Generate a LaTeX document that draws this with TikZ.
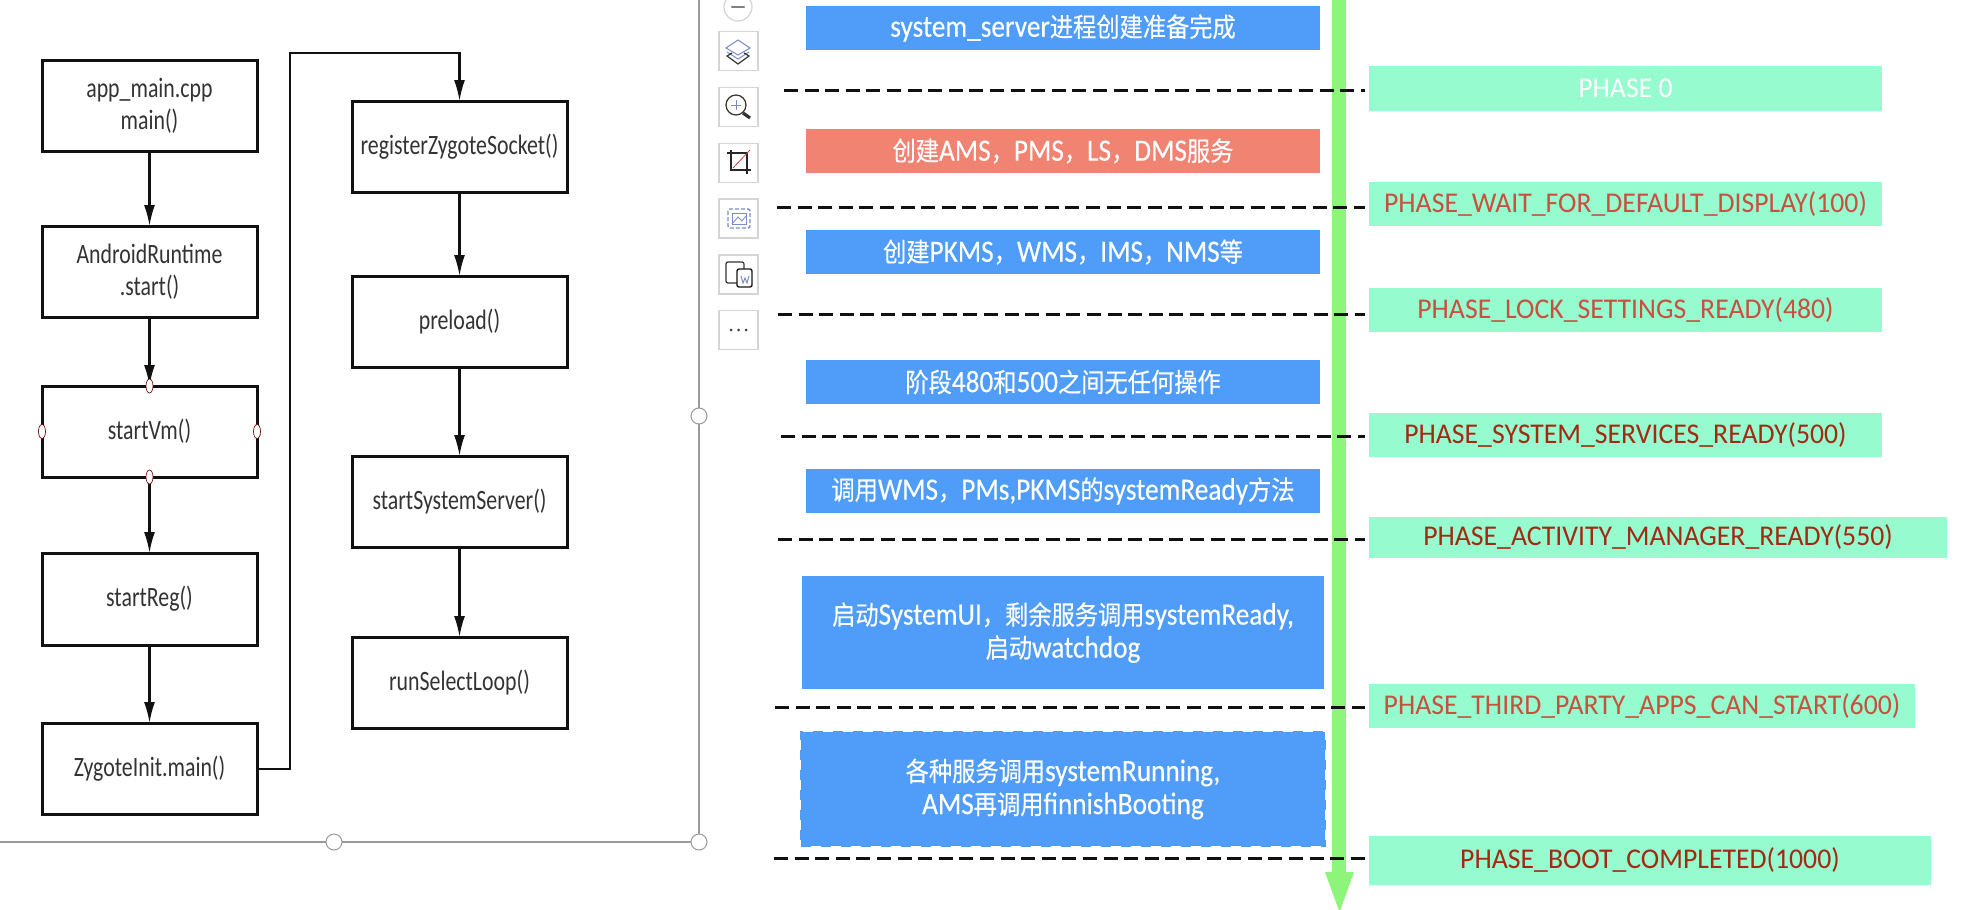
\documentclass[tikz,border=0pt]{standalone}
\usepackage{fontspec}
\setmainfont[FakeStretch=0.97]{Carlito}
\newfontfamily\flowf[FakeStretch=0.78]{Carlito}
\newfontfamily\taskf[FakeStretch=0.88,FakeBold=0.3]{Carlito}
\newfontfamily\cjk[FakeStretch=0.88,FakeBold=0.3]{Noto Sans CJK SC}
\newcommand\zh[1]{{\cjk\fontsize{13.2}{16.5}\selectfont #1}}
\usetikzlibrary{arrows.meta,shapes.geometric}
\definecolor{blueb}{HTML}{4F9DF8}
\definecolor{redb}{HTML}{F08372}
\definecolor{mintb}{HTML}{96FBCF}
\definecolor{greenar}{HTML}{8CF57A}
\definecolor{darkln}{HTML}{111111}
\definecolor{txtgray}{HTML}{333333}
\definecolor{phlight}{HTML}{C9503E}
\definecolor{phdark}{HTML}{A32A12}
\definecolor{panelln}{HTML}{9A9A9A}
\definecolor{toolln}{HTML}{D5D5D5}
\definecolor{iconbl}{HTML}{7C8CC4}
\tikzset{
 flowbox/.style={draw=darkln,line width=1.5pt,fill=white,text=txtgray,font={\flowf\fontsize{14}{16}\selectfont},align=center,inner sep=0pt,outer sep=0pt},
 taskbox/.style={fill=blueb,text=white,font={\taskf\fontsize{15.5}{16.5}\selectfont},align=center,inner sep=0pt,outer sep=0pt},
 alertbox/.style={taskbox,fill=redb},
 runbox/.style={taskbox,draw=blueb,line width=1pt,dash pattern=on 5pt off 5pt},
 phasebox/.style={fill=mintb,text=phlight,font=\fontsize{14.3}{18}\selectfont,align=center,inner sep=0pt,outer sep=0pt},
 phasedark/.style={phasebox,text=phdark},
 phasewhite/.style={phasebox,text=white},
 flowline/.style={draw=darkln,line width=1.1pt,-{Latex[length=10.5pt,width=5.5pt]}},
 phaseline/.style={draw=darkln,line width=1.5pt,dash pattern=on 7pt off 3.3pt,shorten >=2pt},
 panelline/.style={draw=panelln,line width=0.6pt},
 bighandle/.style={circle,draw=panelln,fill=white,line width=0.5pt,minimum size=8pt,inner sep=0pt},
 smallhandle/.style={ellipse,draw=darkln!60!red,fill=white,line width=0.35pt,minimum width=3.5pt,minimum height=7pt,inner sep=0pt},
 toolbox/.style={draw=toolln,fill=white,line width=0.6pt,inner sep=0pt,minimum size=19.5pt},
 greenline/.style={draw=greenar,line width=7pt},
}
\newcommand\pxbox[7]{%
 \pgfmathsetmacro\bw{(#4-#2)/2}\pgfmathsetmacro\bh{(#5-#3)/2}%
 \pgfmathsetmacro\cx{(#2+#4)/2}\pgfmathsetmacro\cy{(#3+#5)/2}%
 \node[#6,minimum width=\bw pt,minimum height=\bh pt] (#1) at (\cx,\cy) {#7};}
\begin{document}
\begin{tikzpicture}[x=0.5pt,y=-0.5pt]
\clip (0,0) rectangle (1976,910);
\fill[white] (0,0) rectangle (1976,910);
% panel
\coordinate (pa) at (699,-5);
\coordinate (pb) at (699,842);
\coordinate (pc) at (-5,842);
\draw[panelline] (pa) -- (pb) -- (pc);
\node[bighandle] (h1) at (699,416) {};
\node[bighandle] (h2) at (334,842) {};
\node[bighandle] (h3) at (699,842) {};
% left flow
\pxbox{a1}{42}{60}{257}{151}{flowbox}{app\_main.cpp\\main()}
\pxbox{a2}{42}{226}{257}{317}{flowbox}{AndroidRuntime\\.start()}
\pxbox{a3}{42}{386}{257}{477}{flowbox}{startVm()}
\pxbox{a4}{42}{553}{257}{645}{flowbox}{startReg()}
\pxbox{a5}{42}{723}{257}{814}{flowbox}{ZygoteInit.main()}
\pxbox{b1}{352}{101}{567}{192}{flowbox}{registerZygoteSocket()}
\pxbox{b2}{352}{276}{567}{367}{flowbox}{preload()}
\pxbox{b3}{352}{456}{567}{547}{flowbox}{startSystemServer()}
\pxbox{b4}{352}{637}{567}{728}{flowbox}{runSelectLoop()}
\draw[flowline] (a1) -- (a2);
\draw[flowline] (a2) -- (a3);
\draw[flowline] (a3) -- (a4);
\draw[flowline] (a4) -- (a5);
\draw[flowline] (b1) -- (b2);
\draw[flowline] (b2) -- (b3);
\draw[flowline] (b3) -- (b4);
\coordinate (r1) at (290,769);
\coordinate (r2) at (290,53);
\draw[flowline] (a5.east |- r1) -- (r1) -- (r2) -- (r2 -| b1) -- (b1);
\node[smallhandle] (s1) at (a3.north) {};
\node[smallhandle] (s2) at (a3.south) {};
\node[smallhandle] (s3) at (a3.west) {};
\node[smallhandle] (s4) at (a3.east) {};
% toolbar
\node[circle,draw=toolln,fill=white,line width=0.6pt,minimum size=14pt,inner sep=0pt] (t0) at (738,7) {};
\draw[gray,line width=1.2pt,line cap=round] (732,7) -- (744,7);
\node[toolbox] (t1) at (738.5,51) {};
\node[toolbox] (t2) at (738.5,107) {};
\node[toolbox] (t3) at (738.5,163) {};
\node[toolbox] (t4) at (738.5,218.5) {};
\node[toolbox] (t5) at (738.5,274.5) {};
\node[toolbox] (t6) at (738.5,330) {};
% layers icon
\draw[iconbl,line width=0.5pt] (738,40) -- (750,48) -- (738,55) -- (726,48) -- cycle;
\draw[iconbl,line width=0.5pt] (727,52) -- (738,59) -- (749,52);
\draw[black!80,line width=0.6pt] (732,53) -- (727,56) -- (738,64) -- (749,56) -- (744,53);
% zoom icon
\draw[black!80,line width=0.6pt] (736,105) circle[radius=10];
\draw[iconbl,line width=0.5pt] (731,105) -- (741,105) (736,100) -- (736,110);
\draw[black!80,line width=1.6pt] (743,113) -- (750,118);
% crop icon
\draw[black!85,line width=0.9pt] (727,153) -- (747,153) -- (747,174);
\draw[black!85,line width=0.9pt] (731,150) -- (731,170) -- (751,170);
\draw[red!50!gray,line width=0.4pt] (733,168) -- (750,150);
% image icon
\draw[iconbl,line width=0.7pt,dash pattern=on 2pt off 1pt,rounded corners=1pt] (728,209) rectangle (750,228);
\draw[iconbl,line width=0.5pt] (732,213) rectangle (746,224);
\draw[iconbl,line width=0.4pt] (732,224) -- (738,217) -- (742,221) -- (746,216);
% convert icon
\draw[black!80,line width=0.6pt,rounded corners=1pt] (726,262) rectangle (744,283);
\draw[black!90,fill=white,line width=0.7pt,rounded corners=1pt] (737,269) rectangle (752,287);
\draw[iconbl,line width=0.5pt] (741,276) -- (743,283) -- (745,278) -- (747,283) -- (749,276);
% dots
\fill[black!75] (731,330) circle[radius=1.5] (738.5,330) circle[radius=1.5] (746,330) circle[radius=1.5];
% blue boxes
\pxbox{c1}{806}{6}{1320}{50}{taskbox}{system\_server\zh{进程创建准备完成}}
\pxbox{c2}{806}{129}{1320}{173}{alertbox}{\zh{创建}AMS\zh{，}PMS\zh{，}LS\zh{，}DMS\zh{服务}}
\pxbox{c3}{806}{230}{1320}{274}{taskbox}{\zh{创建}PKMS\zh{，}WMS\zh{，}IMS\zh{，}NMS\zh{等}}
\pxbox{c4}{806}{360}{1320}{404}{taskbox}{\zh{阶段}480\zh{和}500\zh{之间无任何操作}}
\pxbox{c5}{806}{469}{1320}{513}{taskbox}{\zh{调用}WMS\zh{，}PMs,PKMS\zh{的}systemReady\zh{方法}}
\pxbox{c6}{802}{576}{1324}{689}{taskbox}{\zh{启动}SystemUI\zh{，剩余服务调用}systemReady,\\\zh{启动}watchdog}
\pxbox{c7}{801}{732}{1325}{846}{runbox}{\zh{各种服务调用}systemRunning,\\AMS\zh{再调用}finnishBooting}
% phase boxes
\pxbox{p0}{1369}{66}{1882}{111}{phasewhite}{PHASE 0}
\pxbox{p1}{1369}{182}{1882}{226}{phasebox}{PHASE\_WAIT\_FOR\_DEFAULT\_DISPLAY(100)}
\pxbox{p2}{1369}{288}{1882}{332}{phasebox}{PHASE\_LOCK\_SETTINGS\_READY(480)}
\pxbox{p3}{1369}{413}{1882}{457}{phasedark}{PHASE\_SYSTEM\_SERVICES\_READY(500)}
\pxbox{p4}{1369}{517}{1947}{558}{phasedark}{PHASE\_ACTIVITY\_MANAGER\_READY(550)}
\pxbox{p5}{1369}{684}{1915}{728}{phasebox}{PHASE\_THIRD\_PARTY\_APPS\_CAN\_START(600)}
\pxbox{p6}{1369}{836}{1931}{885}{phasedark}{PHASE\_BOOT\_COMPLETED(1000)}
% green arrow
\coordinate (gt) at (1339,-5);
\coordinate (gb) at (1339,875);
\draw[greenline] (gt) -- (gb);
\fill[greenar] (1325,872) -- (1354,872) -- (1339.5,912) -- cycle;
% dashed
\coordinate (d0) at (784,90);
\coordinate (d1) at (777,207);
\coordinate (d2) at (778,314);
\coordinate (d3) at (781,436);
\coordinate (d4) at (778,539);
\coordinate (d5) at (775,707);
\coordinate (d6) at (774,858);
\draw[phaseline] (d0) -- (d0 -| p0.west);
\draw[phaseline] (d1) -- (d1 -| p1.west);
\draw[phaseline] (d2) -- (d2 -| p2.west);
\draw[phaseline] (d3) -- (d3 -| p3.west);
\draw[phaseline] (d4) -- (d4 -| p4.west);
\draw[phaseline] (d5) -- (d5 -| p5.west);
\draw[phaseline] (d6) -- (d6 -| p6.west);
\end{tikzpicture}
\end{document}
